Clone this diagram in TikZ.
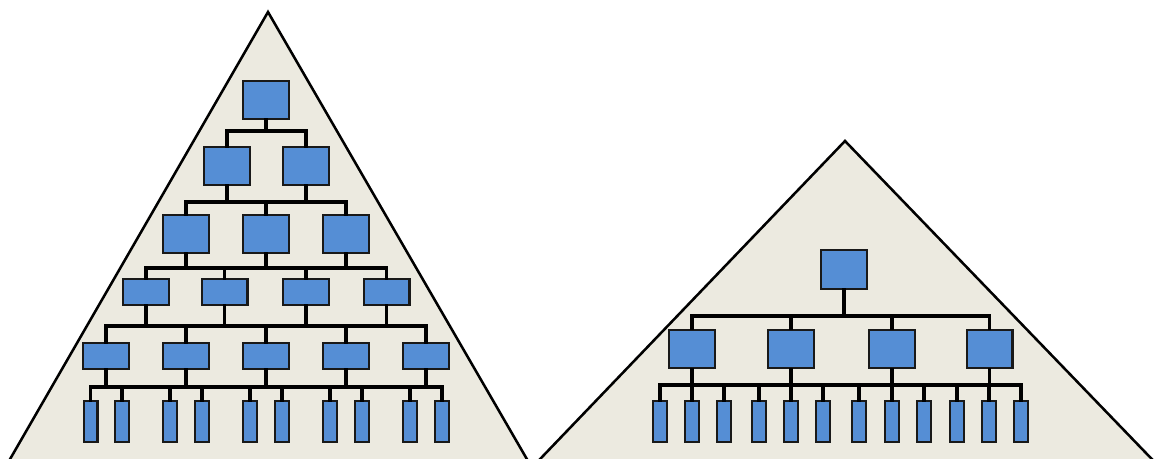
\documentclass[tikz,border=0pt]{standalone}
\definecolor{pyr}{HTML}{ECEAE0}
\definecolor{boxblue}{HTML}{558ED5}
\begin{document}
\begin{tikzpicture}[x=0.75pt,y=-0.75pt,
  unit/.style={draw=black!90, fill=boxblue, line width=1.7pt, inner sep=0pt,
               minimum width=34.3pt, minimum height=28.3pt},
  flat/.style={unit, minimum height=19.3pt},
  leaf/.style={unit, minimum width=10.3pt, minimum height=30.5pt},
  link/.style={line width=2.4pt, black, line cap=rect},
  pyramid/.style={fill=pyr, draw=black, line width=1.9pt, line join=miter}]
\clip (0,0) rectangle (1159,459);
\fill[white] (0,0) rectangle (1159,459);

% the two pyramids (bases run off the bottom edge)
\draw[pyramid] (268,12) -- (539,480) -- (-2,480) -- cycle;
\draw[pyramid] (845,141) -- (1172,480) -- (520,480) -- cycle;

% ---------- tall hierarchy ----------
\node[unit] (a) at (266,100) {};
\foreach \i/\x in {1/227,2/306} \node[unit] (b\i) at (\x,166) {};
\foreach \i/\x in {1/186,2/266,3/346} \node[unit] (c\i) at (\x,234) {};
\foreach \i/\x in {1/146,2/224.5,3/306,4/386.5} \node[flat] (d\i) at (\x,292) {};
\foreach \i/\x in {1/106,2/186,3/266,4/346,5/426} \node[flat] (e\i) at (\x,356) {};
\foreach \i/\x in {1/90.5,2/122,3/170,4/202,5/250,6/282,7/330,8/362,9/410,10/442}
  \node[leaf] (f\i) at (\x,421.5) {};

\coordinate (bus1) at (0,131);
\coordinate (bus2) at (0,202);
\coordinate (bus3) at (0,268);
\coordinate (bus4) at (0,326);
\coordinate (bus5) at (0,387);

% level 0 -> 1
\draw[link] (a.south) -- (a.south |- bus1);
\draw[link] (b1.north |- bus1) -- (b2.north |- bus1);
\foreach \n in {b1,b2} \draw[link] (\n.north) -- (\n.north |- bus1);
% level 1 -> 2
\foreach \n in {b1,b2} \draw[link] (\n.south) -- (\n.south |- bus2);
\draw[link] (c1.north |- bus2) -- (c3.north |- bus2);
\foreach \n in {c1,c2,c3} \draw[link] (\n.north) -- (\n.north |- bus2);
% level 2 -> 3
\foreach \n in {c1,c2,c3} \draw[link] (\n.south) -- (\n.south |- bus3);
\draw[link] (d1.north |- bus3) -- (d4.north |- bus3);
\foreach \n in {d1,d2,d3,d4} \draw[link] (\n.north) -- (\n.north |- bus3);
% level 3 -> 4
\foreach \n in {d1,d2,d3,d4} \draw[link] (\n.south) -- (\n.south |- bus4);
\draw[link] (e1.north |- bus4) -- (e5.north |- bus4);
\foreach \n in {e1,e2,e3,e4,e5} \draw[link] (\n.north) -- (\n.north |- bus4);
% level 4 -> 5
\foreach \n in {e1,e2,e3,e4,e5} \draw[link] (\n.south) -- (\n.south |- bus5);
\draw[link] (f1.north |- bus5) -- (f10.north |- bus5);
\foreach \i in {1,...,10} \draw[link] (f\i.north) -- (f\i.north |- bus5);

% ---------- flat hierarchy ----------
\node[unit, minimum height=29pt] (r) at (844,269.5) {};
\foreach \i/\x in {1/692,2/791,3/892,4/989.5}
  \node[unit, minimum height=28.8pt] (s\i) at (\x,349) {};
\foreach \i/\x in {1/660,2/692,3/724,4/759,5/791,6/823,7/859,8/892,9/924,10/957,11/989,12/1021}
  \node[leaf] (t\i) at (\x,421.5) {};

\coordinate (bus6) at (0,316);
\coordinate (bus7) at (0,385);

\draw[link] (r.south) -- (r.south |- bus6);
\draw[link] (s1.north |- bus6) -- (s4.north |- bus6);
\foreach \i in {1,...,4} \draw[link] (s\i.north) -- (s\i.north |- bus6);
\foreach \i in {1,...,4} \draw[link] (s\i.south) -- (s\i.south |- bus7);
\draw[link] (t1.north |- bus7) -- (t12.north |- bus7);
\foreach \i in {1,...,12} \draw[link] (t\i.north) -- (t\i.north |- bus7);
\end{tikzpicture}
\end{document}
